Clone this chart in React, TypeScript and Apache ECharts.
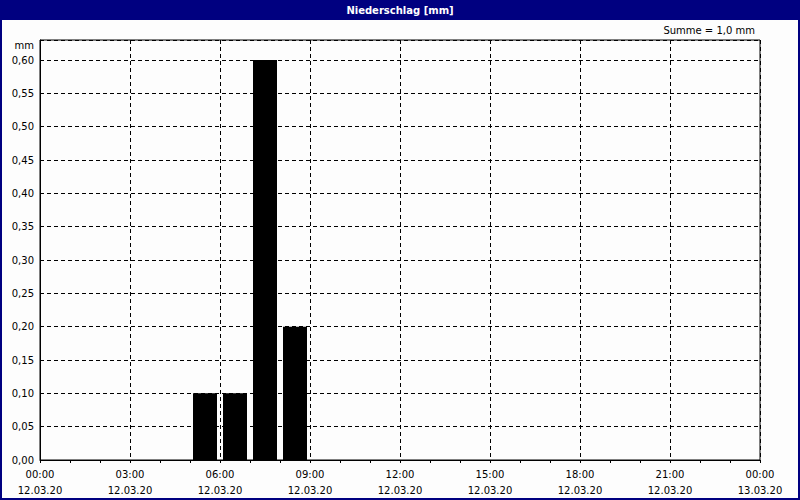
import React, { useEffect, useRef } from "react";
import * as echarts from "echarts";

const chartTitle = "Niederschlag [mm]";
const sumText = "Summe = 1,0 mm";
const unitText = "mm";
const hourStarts = [5, 6, 7, 8];
const rainValues = [0.1, 0.1, 0.6, 0.2];
const dayLabels = ["12.03.20", "13.03.20"];
const yMax = 0.63;

const FONT = "'DejaVu Sans', Tahoma, sans-serif";
const NAVY = "#000080";

export default function App() {
  const ref = useRef<HTMLDivElement>(null);
  useEffect(() => {
    document.body.style.margin = "0";
    const chart = echarts.init(ref.current!, null, { renderer: "svg" });
    const pad = (n: number) => (n < 10 ? "0" + n : "" + n);
    chart.setOption({
      animation: false,
      backgroundColor: NAVY,
      textStyle: { fontFamily: FONT },
      graphic: [
        {
          type: "rect",
          z: -10,
          silent: true,
          shape: { x: 2, y: 20, width: 796, height: 478 },
          style: { fill: "#fdfdfd" },
        },
        {
          type: "text",
          x: 400,
          y: 10,
          style: {
            text: chartTitle,
            fill: "#ffffff",
            font: `bold 10px ${FONT}`,
            align: "center",
            verticalAlign: "middle",
          },
        },
        {
          type: "text",
          x: 755,
          y: 30,
          style: {
            text: sumText,
            fill: "#000",
            font: `10px ${FONT}`,
            align: "right",
            verticalAlign: "middle",
          },
        },
        {
          type: "text",
          x: 34,
          y: 45,
          style: {
            text: unitText,
            fill: "#000",
            font: `10px ${FONT}`,
            align: "right",
            verticalAlign: "middle",
          },
        },
      ],
      grid: {
        left: 40,
        top: 40,
        right: 40,
        bottom: 40,
        show: true,
        backgroundColor: "transparent",
        borderColor: "#000",
        borderWidth: 1,
      },
      xAxis: {
        type: "value",
        min: 0,
        max: 24,
        interval: 3,
        axisLine: { show: true, onZero: false, lineStyle: { color: "#000", width: 1 } },
        axisTick: { show: true, length: 3, lineStyle: { color: "#000" } },
        minorTick: { show: true, splitNumber: 3, length: 3, lineStyle: { color: "#000" } },
        splitLine: { show: true, lineStyle: { color: "#000", type: [4, 3], width: 1 } },
        axisLabel: {
          color: "#000",
          fontSize: 10,
          fontFamily: FONT,
          lineHeight: 16,
          margin: 6,
          formatter: (v: number) =>
            pad(v % 24) + ":00\n" + (v >= 24 ? dayLabels[1] : dayLabels[0]),
        },
      },
      yAxis: {
        type: "value",
        min: 0,
        max: yMax,
        interval: 0.05,
        axisLine: { show: true, lineStyle: { color: "#000", width: 1 } },
        axisTick: { show: false },
        splitLine: { show: true, lineStyle: { color: "#000", type: [4, 3], width: 1 } },
        axisLabel: {
          color: "#000",
          fontSize: 10,
          fontFamily: FONT,
          margin: 6,
          formatter: (v: number) =>
            v > 0.61 ? "" : v.toFixed(2).replace(".", ","),
        },
      },
      series: [
        {
          type: "bar",
          barWidth: 24,
          itemStyle: { color: "#000" },
          data: hourStarts.map((h, i) => [h + 0.5, rainValues[i]]),
        },
      ],
    });
    return () => chart.dispose();
  }, []);
  return <div ref={ref} style={{ width: 800, height: 500 }} />;
}
